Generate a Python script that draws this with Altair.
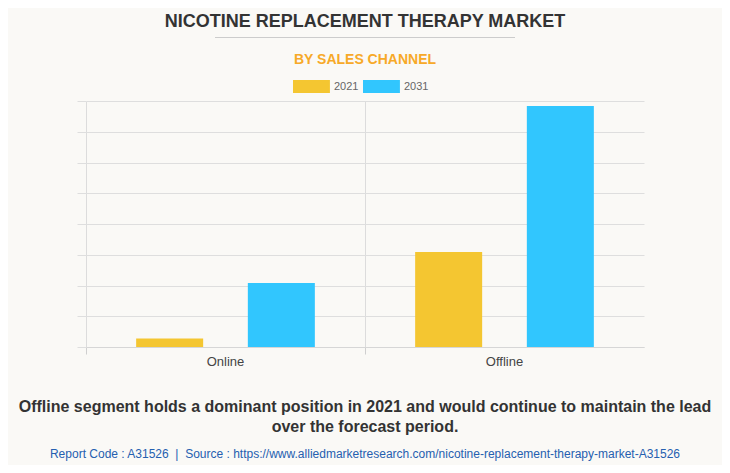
import altair as alt
import pandas as pd

channels = ["Online", "Online", "Offline", "Offline"]
years = ["2021", "2031", "2021", "2031"]
values = [0.28, 2.08, 3.09, 7.84]

title_text = ["NICOTINE REPLACEMENT THERAPY MARKET"]
subtitle_text = ["BY SALES CHANNEL"]
footer1 = ["Offline segment holds a dominant position in 2021 and would continue to maintain the lead"]
footer2 = ["over the forecast period."]
source_text = ["Report Code : A31526\u00a0\u00a0|\u00a0\u00a0Source : https://www.alliedmarketresearch.com/nicotine-replacement-therapy-market-A31526"]

FONT = "Liberation Sans"
W, H = 558, 246

df = pd.DataFrame({"channel": channels, "year": years, "value": values})

bars = alt.Chart(df).mark_bar().encode(
    x=alt.X("channel:N", sort=["Online", "Offline"], title=None,
            scale=alt.Scale(paddingInner=0, paddingOuter=0),
            axis=alt.Axis(labelAngle=0, labelFontSize=13, labelColor="#444", labelFont=FONT,
                          labelPadding=1, grid=True, gridColor="#dcdcdc", bandPosition=0,
                          tickSize=7, tickColor="#cfcfcf", domainColor="#d6d6d6")),
    xOffset=alt.XOffset("year:N", scale=alt.Scale(paddingInner=0.4, paddingOuter=0.449)),
    y=alt.Y("value:Q", title=None, scale=alt.Scale(domain=[0, 8], nice=False),
            axis=alt.Axis(values=list(range(9)), labels=False, domain=False, tickSize=9,
                          tickColor="#dedede", gridColor="#dedede")),
    color=alt.Color("year:N", scale=alt.Scale(domain=["2021", "2031"], range=["#F4C631", "#31C6FE"]),
                    legend=alt.Legend(title=None, orient="none", direction="horizontal",
                                      legendX=207, legendY=-21,
                                      symbolType="M-1,-1H4.68V1H-1Z", symbolSize=169,
                                      symbolStrokeWidth=0, symbolOpacity=1,
                                      labelFontSize=11, labelColor="#666", labelFont=FONT,
                                      labelOffset=28, columnPadding=4)),
)

def txt(lst, x, y, size, color, weight="normal"):
    return alt.Chart(pd.DataFrame({"t": lst})).mark_text(
        font=FONT, fontSize=size, fontWeight=weight, color=color, align="center",
        baseline="alphabetic"
    ).encode(text="t:N", x=alt.value(x), y=alt.value(y))

title = txt(title_text, W / 2, -74.3, 18, "#333333", "bold")
sub = txt(subtitle_text, W / 2, -37, 14, "#F7A928", "bold")
f1 = txt(footer1, W / 2, 310.7, 16, "#333333", "bold")
f2 = txt(footer2, W / 2, 330.7, 16, "#333333", "bold")
src = txt(source_text, W / 2, 357.3, 12, "#2560B0")
sep = alt.Chart(pd.DataFrame({"a": [0]})).mark_rule(color="#cccccc", strokeWidth=1).encode(
    x=alt.value(129), x2=alt.value(429), y=alt.value(-63.5))

chart = alt.layer(bars, title, sub, f1, f2, src, sep).properties(
    width=W, height=H,
    autosize=alt.AutoSizeParams(type="none"),
    padding={"left": 78, "top": 93, "right": 78, "bottom": 118},
    background="#faf9f6",
).configure_view(stroke=None)

chart.save("out.html", embed_options={"renderer": "svg", "actions": False})
